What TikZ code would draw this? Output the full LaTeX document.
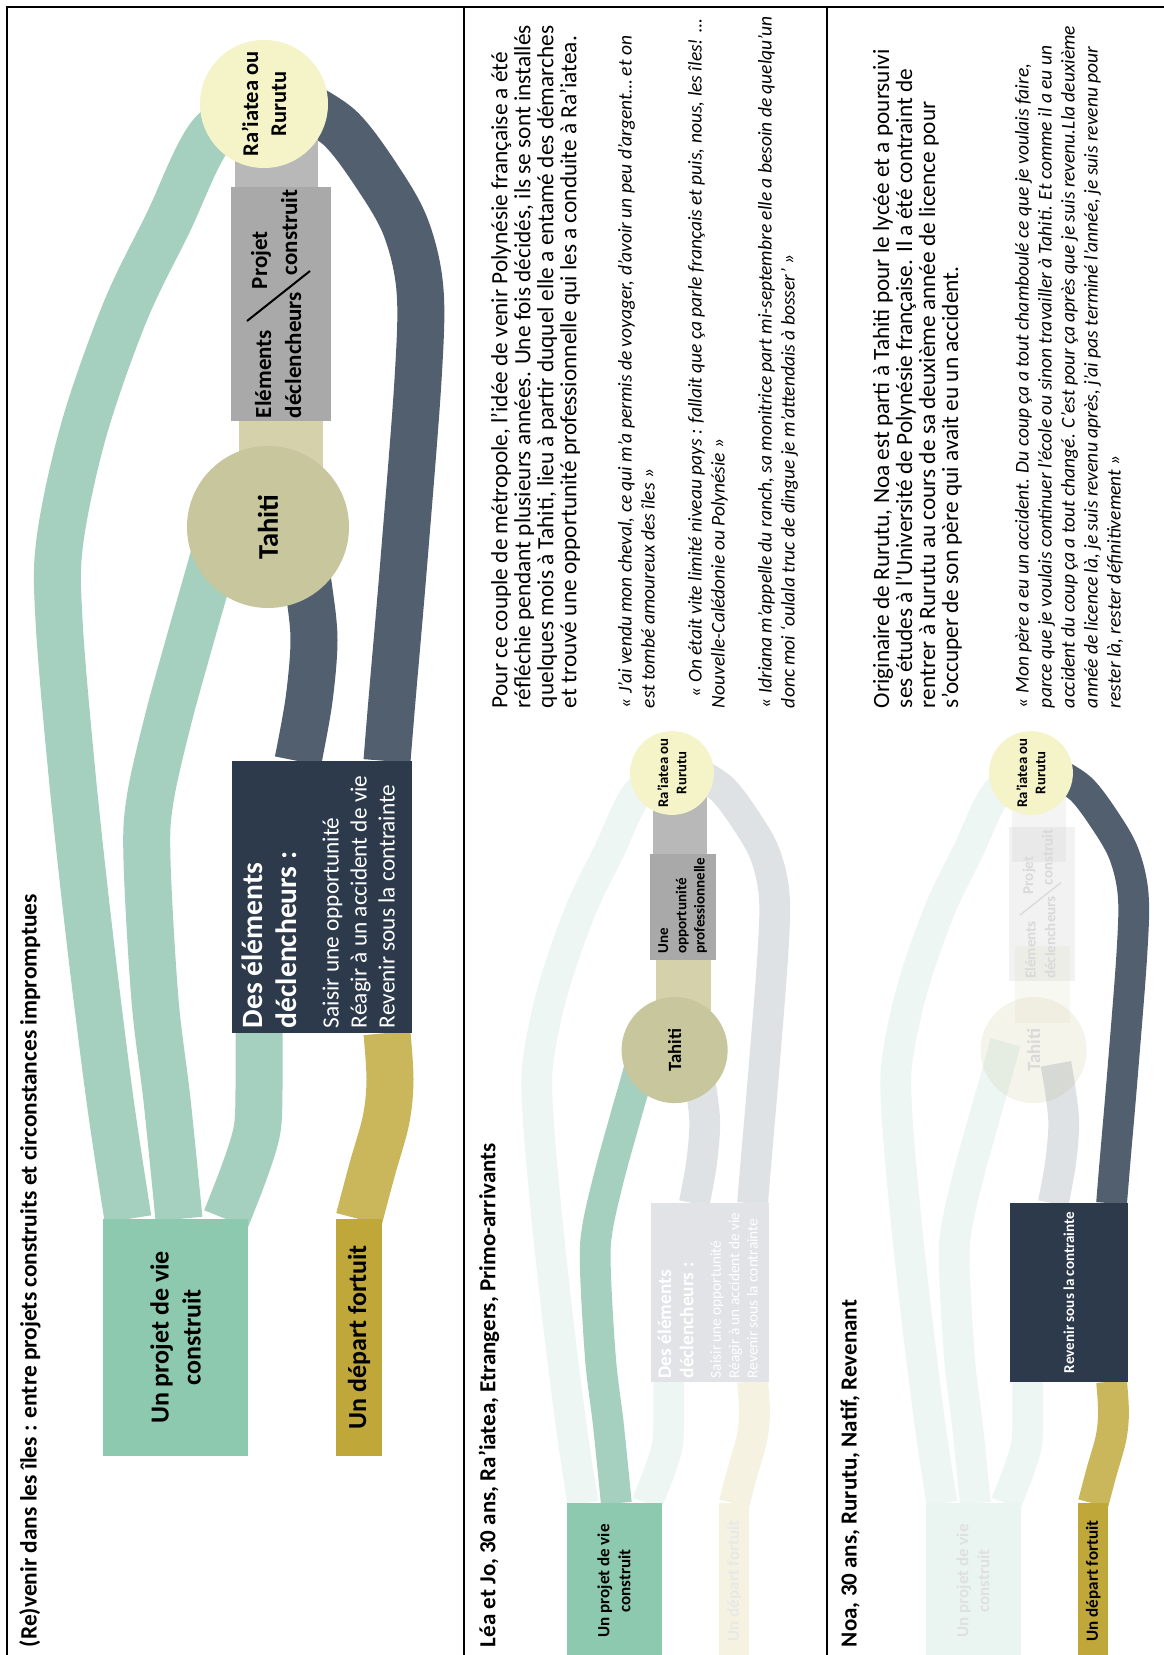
\documentclass[tikz,border=0pt]{standalone}
\usepackage{fontspec}
\setmainfont{Carlito}
\usetikzlibrary{calc}
\definecolor{cGreenBand}{HTML}{A5CFBE}
\definecolor{cProjet}{HTML}{8DC9AF}
\definecolor{cGoldBox}{HTML}{BFA739}
\definecolor{cGoldBand}{HTML}{CAB75B}
\definecolor{cDarkBox}{HTML}{2C3A4B}
\definecolor{cDarkBand}{HTML}{525F6F}
\definecolor{cRia}{HTML}{F4F4C8}
\definecolor{cTahiti}{HTML}{C8C69C}
\definecolor{cGbox}{HTML}{A9A9A9}
\definecolor{cGrayConn}{HTML}{B8B8B8}
\definecolor{cTanConn}{HTML}{D4D1AB}
\newcommand\fs[2]{\fontsize{#1}{#2}\selectfont}
\tikzset{
 band/.style={line width=47pt, line cap=butt, line join=round},
 gband/.style={band, draw=cGreenBand},
 dband/.style={band, draw=cDarkBand},
 oband/.style={band, draw=cGoldBand},
 fb/.style={draw opacity=0.18},
 fc/.style={draw opacity=0.15},
 rot/.style={rotate=90, inner sep=0pt, outer sep=0pt},
 circ/.style={circle, inner sep=0pt, outer sep=0pt, draw=none, rotate=90, align=center},
 rbox/.style={rectangle, inner sep=0pt, outer sep=0pt, draw=none, rotate=90, align=center},
 riast/.style={circ, minimum size=128pt, font=\fs{22.5}{28}\bfseries},
 tahst/.style={circ, minimum size=162pt, font=\fs{28.5}{30}\bfseries},
 dboxst/.style={rbox, minimum width=272pt, minimum height=180pt},
 projst/.style={rbox, minimum width=237pt, minimum height=145pt, font=\fs{26}{32}\bfseries},
 depst/.style={rbox, minimum width=237pt, minimum height=46pt, font=\fs{26}{32}\bfseries},
 ttl/.style={rot, anchor=west, font=\fs{23}{23}\bfseries},
 para/.style={rot, anchor=north west, align=left, font=\fs{23.3}{23}},
 quot/.style={rot, anchor=north west, align=left, font=\fs{19.5}{23}\itshape},
}
\newcommand\setcoords{%
 \coordinate (ria) at (264,104);
 \coordinate (gbox) at (281,304);
 \coordinate (tahiti) at (268,527);
 \coordinate (dbox) at (322,897);
 \coordinate (projet) at (175.5,1337.5);
 \coordinate (depart) at (359,1337.5);}
\newcommand\bandGone[1]{\draw[gband,#1] plot[smooth,tension=0.55] coordinates {($(projet)+(-47.5,-118.5)$) (110,1100) (90,940) (72,774) (59,620) (60,540) (84,429) (125,312) (168,223) (211,135) ($(ria)+(0,0)$)};}
\newcommand\bandGtwo[1]{\draw[gband,#1] plot[smooth,tension=0.55] coordinates {($(projet)+(3.5,-118.5)$) (167,1100) (155,1000) (147,860) (150,800) (168,720) (190,640) (210,570) ($(tahiti)+(-43,-12)$)};}
\newcommand\bandGthree[1]{\draw[gband,#1] plot[smooth,tension=0.55] coordinates {($(projet)+(50.5,-118.5)$) (245,1170) (257,1130) (259,1090) ($(dbox)+(-63,136)$)};}
\newcommand\bandDA[1]{\draw[dband,#1] plot[smooth,tension=0.55] coordinates {($(ria)+(31,-4)$) (340,128) (378,178) (406,228) (420,290) (418,380) (404,560) (392,700) ($(dbox)+(65,-136)$)};}
\newcommand\bandDB[1]{\draw[dband,#1] plot[smooth,tension=0.55] coordinates {($(tahiti)+(34,21)$) (309,590) (314,640) (309,700) ($(dbox)+(-24,-136)$)};}
\newcommand\bandGold[1]{\draw[oband,#1] plot[smooth,tension=0.55] coordinates {($(dbox)+(65,136)$) (390,1080) (386,1120) (372,1170) ($(depart)+(0,-118.5)$)};}
\newcommand\connGray[1]{\draw[line width=83pt, draw=cGrayConn, #1] ($(ria)+(12.5,26)$) -- ($(gbox)+(-4.5,-64)$);}
\newcommand\connTan[1]{\draw[line width=84pt, draw=cTanConn, #1] ($(gbox)+(0,64)$) -- ($(tahiti)+(13,-42)$);}
\newcommand\gboxtext[1]{%
 \node[rot, anchor=north west, align=left, text=#1, font=\fs{23}{30}\bfseries] (gtl) at (255,418) {Eléments\\déclencheurs};
 \node[rot, anchor=north west, align=left, text=#1, font=\fs{23}{30}\bfseries] (gtr) at (251,289) {Projet\\\hspace*{14pt}construit};
 \draw[line width=2pt, draw=#1] (247,321) -- (310,271);}
\newcommand\dboxtext[1]{%
 \node[rot, anchor=north west, align=left, text=#1, text width=260pt] (dtxt) at (242,1028) {\setlength\parindent{0pt}\spaceskip=0pt\xspaceskip=0pt{\fs{29.5}{34}\bfseries Des éléments\\déclencheurs :\par}\vspace{14pt}{\fs{23.3}{28}Saisir une opportunité\\Réagir à un accident de vie\\Revenir sous la contrainte\par}};}
\begin{document}
\begin{tikzpicture}[x=1pt,y=-1pt]
\useasboundingbox (0,0) rectangle (1164,1655);
\fill[white] (0,0) rectangle (1164,1655);
% ---------- panel 1
\begin{scope}[name prefix=p1-]
 \setcoords
 \bandGone{} \bandGtwo{} \bandGthree{} \bandDA{} \bandDB{} \bandGold{}
 \connGray{} \connTan{}
 \node[riast, fill=cRia] (ria) at (ria) {Ra’iatea ou\\Rurutu};
 \node[rbox, minimum width=234pt, minimum height=100pt, fill=cGbox] (gbox) at (gbox) {};
 \gboxtext{black}
 \node[tahst, fill=cTahiti] (tahiti) at (tahiti) {Tahiti};
 \node[dboxst, fill=cDarkBox] (dbox) at (dbox) {};
 \dboxtext{white}
 \node[projst, fill=cProjet] (projet) at (projet) {Un projet de vie\\construit};
 \node[depst, fill=cGoldBox] (depart) at (depart) {Un départ fortuit};
\end{scope}
% ---------- panel 2
\begin{scope}
\clip (464.5,8) rectangle (825.5,1660);
\begin{scope}[transform canvas={shift={(499.08,704.88)},scale=0.655}, name prefix=p2-]
 \setcoords
 \coordinate (gbox) at (281,308);
 \bandGone{fb} \bandGthree{fb} \bandDA{fb} \bandDB{fb} \bandGold{fb}
 \bandGtwo{}
 \connGray{} \connTan{}
 \node[riast, fill=cRia] (ria) at (ria) {Ra’iatea ou\\Rurutu};
 \node[rbox, minimum width=162pt, minimum height=100pt, fill=cGbox] (gbox) at (gbox) {};
 \node[rot, anchor=north west, align=left, font=\fs{23}{28}\bfseries] (gtxt) at (243,380) {Une\\opportunité\\professionnelle};
 \node[tahst, fill=cTahiti] (tahiti) at (tahiti) {Tahiti};
 \node[dboxst, fill=cDarkBox!14!white] (dbox) at (dbox) {};
 \dboxtext{white}
 \node[projst, fill=cProjet] (projet) at (projet) {Un projet de vie\\construit};
 \node[depst, fill=cGoldBox!15!white, text=black!9!white] (depart) at (depart) {Un départ fortuit};
\end{scope}
\end{scope}
% ---------- panel 3
\begin{scope}
\clip (827.5,8) rectangle (1170,1660);
\begin{scope}[transform canvas={shift={(858.08,704.88)},scale=0.655}, name prefix=p3-]
 \setcoords
 \node[tahst, fill=cTahiti!20!white, text=black!15!white] (tahiti) at (tahiti) {Tahiti};
 \node[rbox, minimum width=234pt, minimum height=100pt, fill=cGbox!15!white] (gbox) at (gbox) {};
 \bandGone{fb} \bandGtwo{fb} \bandGthree{fb} \bandDB{fb}
 \connGray{fc} \connTan{fc}
 \gboxtext{black!15!white}
 \bandDA{} \bandGold{}
 \node[projst, fill=cProjet!18!white, text=black!12!white] (projet) at (projet) {Un projet de vie\\construit};
 \node[riast, fill=cRia] (ria) at (ria) {Ra’iatea ou\\Rurutu};
 \node[dboxst, fill=cDarkBox] (dbox) at (dbox) {};
 \node[rot, text=white, font=\fs{23}{28}\bfseries] (dtxt) at (dbox) {Revenir sous la contrainte};
 \node[depst, fill=cGoldBox] (depart) at (depart) {Un départ fortuit};
\end{scope}
\end{scope}
% ---------- frame
\draw[line width=2pt] (7,7) rectangle (1172,1665);
\draw[line width=2pt] (463.5,7) -- (463.5,1665);
\draw[line width=2pt] (826.5,7) -- (826.5,1665);
% ---------- titles
\node[ttl, font=\fs{23.4}{23}\bfseries] (t1) at (30,1647) {(Re)venir dans les îles : entre projets construits et circonstances impromptues};
\node[ttl] (t2) at (489,1647) {Léa et Jo, 30 ans, Ra’iatea, Etrangers, Primo-arrivants};
\node[ttl] (t3) at (850,1647) {Noa, 30 ans, Rurutu, Natif, Revenant};
% ---------- panel 2 texts
\node[para] (p2txt) at (491,708) {Pour ce couple de métropole, l’idée de venir Polynésie française a été\\réfléchie pendant plusieurs années. Une fois décidés, ils se sont installés\\quelques mois à Tahiti, lieu à partir duquel elle a entamé des démarches\\et trouvé une opportunité professionnelle qui les a conduite à Ra’iatea.};
\node[quot] (q1) at (618,708) {« J’ai vendu mon cheval, ce qui m’a permis de voyager, d’avoir un peu d’argent… et on\\est tombé amoureux des îles »};
\node[quot] (q2) at (688,708) {\hspace*{11pt}« On était vite limité niveau pays : fallait que ça parle français et puis, nous, les îles! …\\Nouvelle-Calédonie ou Polynésie »};
\node[quot] (q3) at (758,708) {« Idriana m’appelle du ranch, sa monitrice part mi-septembre elle a besoin de quelqu’un\\donc moi ‘oulala truc de dingue je m’attendais à bosser’ »};
% ---------- panel 3 texts
\node[para] (p3txt) at (873,708) {Originaire de Rurutu, Noa est parti à Tahiti pour le lycée et a poursuivi\\ses études à l’Université de Polynésie française. Il a été contraint de\\rentrer à Rurutu au cours de sa deuxième année de licence pour\\s’occuper de son père qui avait eu un accident.};
\node[quot] (q4) at (1015,708) {« Mon père a eu un accident. Du coup ça a tout chamboulé ce que je voulais faire,\\parce que je voulais continuer l’école ou sinon travailler à Tahiti. Et comme il a eu un\\accident du coup ça a tout changé. C’est pour ça après que je suis revenu.Lla deuxième\\année de licence là, je suis revenu après, j’ai pas terminé l’année, je suis revenu pour\\rester là, rester définitivement »};
\end{tikzpicture}
\end{document}
